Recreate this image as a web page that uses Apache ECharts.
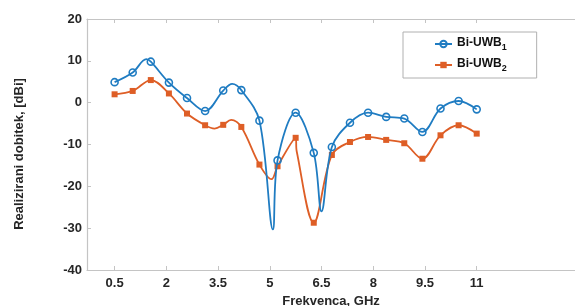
<!DOCTYPE html>
<html>
<head>
<meta charset="utf-8">
<script src="https://cdn.jsdelivr.net/npm/echarts@6/dist/echarts.min.js"></script>
<style>
    html, body { margin: 0; padding: 0; background: #fff; }
    #chart { width: 575px; height: 306px; }
</style>
</head>
<body>
<div id="chart"></div>
<script>
// frequencies of the marked samples, GHz
const freq = [0.5, 1.025, 1.55, 2.075, 2.6, 3.125, 3.65, 4.175, 4.7, 5.225, 5.75,
    6.275, 6.8, 7.325, 7.85, 8.375, 8.9, 9.425, 9.95, 10.475, 11]
const uwb1 = [4.9, 7.2, 9.8, 4.8, 1.1, -2.0, 2.9, 3.0, -4.3, -13.8, -2.4,
    -12.0, -10.6, -4.8, -2.4, -3.4, -3.8, -7.0, -1.4, 0.4, -1.6]
const uwb2 = [2.0, 2.8, 5.4, 2.2, -2.6, -5.4, -5.3, -5.8, -14.8, -15.2, -8.4,
    -28.7, -12.5, -9.4, -8.2, -8.9, -9.7, -13.4, -7.8, -5.4, -7.4]
// curve points between markers (peaks / dips, no marker)
const uwb1Curve = [[1.42, 10.4], [3.91, 4.5], [5.09, -30.3], [6.5, -26.0]]
const uwb2Curve = [[3.4, -6.2], [3.88, -4.1], [5.05, -18.3], [5.78, -11.6]]
const seriesNames = ['Bi-UWB1', 'Bi-UWB2']
const xTicks = [0.5, 2, 3.5, 5, 6.5, 8, 9.5, 11]

const blue = '#1f7cc2'
const orange = '#de5e26'
const axisGray = '#c4c4c4'
const font = 'Liberation Sans, Arial, sans-serif'

function buildData(vals, extra) {
    let pts = freq.map((f, i) => ({ value: [f, vals[i]] }))
    extra.forEach(p => pts.push({ value: p, symbol: 'none' }))
    pts.sort((a, b) => a.value[0] - b.value[0])
    return pts
}

const chart = echarts.init(document.getElementById('chart'))
const labelStyle = { color: '#262626', fontWeight: 'bold', fontSize: 13, fontFamily: font }

chart.setOption({
    animation: false,
    textStyle: { fontFamily: font },
    grid: { left: 87, right: 0, top: 19, bottom: 36, outerBoundsMode: 'none', containLabel: false },
    legend: {
        orient: 'vertical',
        left: 403,
        top: 32,
        borderColor: '#b0b0b0',
        borderWidth: 1,
        padding: [5, 30, 5, 31],
        itemGap: 6,
        itemWidth: 17,
        itemHeight: 8,
        formatter: name => '{b|' + name.slice(0, -1) + '}{s|' + name.slice(-1) + '}',
        textStyle: {
            rich: {
                b: { fontSize: 12, fontWeight: 'bold', color: '#111', fontFamily: font, lineHeight: 16, verticalAlign: 'bottom', padding: [0, 0, 3, 0] },
                s: { fontSize: 9, fontWeight: 'bold', color: '#111', fontFamily: font, lineHeight: 16, verticalAlign: 'bottom' }
            }
        },
        data: seriesNames
    },
    xAxis: [{
        type: 'value',
        min: -0.3,
        max: 13.85,
        name: 'Frekvenca, GHz',
        nameLocation: 'middle',
        nameGap: 25,
        nameTextStyle: { color: '#262626', fontWeight: 'bold', fontSize: 13, fontFamily: font },
        splitLine: { show: false },
        axisLine: { onZero: false, lineStyle: { color: axisGray, width: 1.2 } },
        axisTick: { inside: true, length: 4, customValues: xTicks, lineStyle: { color: axisGray } },
        axisLabel: Object.assign({ customValues: xTicks, margin: 7 }, labelStyle)
    }, {
        type: 'value',
        position: 'top',
        min: -0.3,
        max: 13.85,
        splitLine: { show: false },
        axisLine: { onZero: false, lineStyle: { color: axisGray, width: 1.2 } },
        axisTick: { inside: true, length: 4, customValues: xTicks, lineStyle: { color: axisGray } },
        axisLabel: { show: false }
    }],
    yAxis: {
        type: 'value',
        min: -40,
        max: 20,
        interval: 10,
        name: 'Realizirani dobitek, [dBi]',
        nameLocation: 'middle',
        nameGap: 61,
        nameTextStyle: { color: '#262626', fontWeight: 'bold', fontSize: 13, fontFamily: font, padding: [0, 19, 0, 0] },
        splitLine: { show: false },
        axisLine: { show: true, onZero: false, lineStyle: { color: axisGray, width: 1.2 } },
        axisTick: { show: true, inside: true, length: 4, lineStyle: { color: axisGray } },
        axisLabel: Object.assign({ margin: 5 }, labelStyle)
    },
    series: [{
        name: seriesNames[0],
        type: 'line',
        smooth: 0.35,
        data: buildData(uwb1, uwb1Curve),
        symbol: 'circle',
        symbolSize: 7,
        lineStyle: { color: blue, width: 1.8 },
        itemStyle: { color: 'rgba(255,255,255,0)', borderColor: blue, borderWidth: 1.6 },
        z: 3
    }, {
        name: seriesNames[1],
        type: 'line',
        smooth: 0.35,
        data: buildData(uwb2, uwb2Curve),
        symbol: 'rect',
        symbolSize: 6,
        lineStyle: { color: orange, width: 1.8 },
        itemStyle: { color: orange },
        z: 2
    }]
})
</script>
</body>
</html>
